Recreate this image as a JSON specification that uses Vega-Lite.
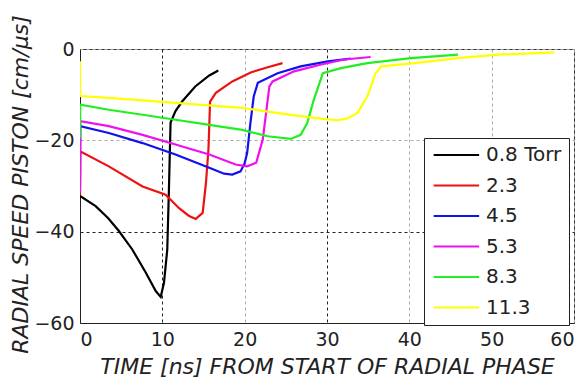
{
  "$schema": "https://vega.github.io/schema/vega-lite/v6.json",
  "autosize": {"type": "none"},
  "width": 494,
  "height": 274,
  "padding": {"left": 80, "top": 49, "right": 13, "bottom": 55},
  "background": "white",
  "config": {
    "view": {"stroke": "#333", "strokeWidth": 1},
    "font": "DejaVu Sans",
    "axis": {
      "labelFont": "DejaVu Sans",
      "labelFontSize": 19,
      "labelColor": "#222",
      "titleFont": "DejaVu Sans",
      "titleFontStyle": "italic",
      "titleFontWeight": "normal",
      "titleFontSize": 22,
      "titleColor": "#222",
      "domainColor": "#222",
      "ticks": false,
      "gridDash": [3, 3],
      "gridWidth": 1
    }
  },
  "data": {
    "values": [
      {"p": "0.8 Torr", "t": 0, "v": -32.2},
      {"p": "0.8 Torr", "t": 1.9, "v": -34.4},
      {"p": "0.8 Torr", "t": 3.4, "v": -37},
      {"p": "0.8 Torr", "t": 4.7, "v": -39.8},
      {"p": "0.8 Torr", "t": 6.35, "v": -43.9},
      {"p": "0.8 Torr", "t": 8.0, "v": -49},
      {"p": "0.8 Torr", "t": 9.2, "v": -53},
      {"p": "0.8 Torr", "t": 9.8, "v": -54.3},
      {"p": "0.8 Torr", "t": 10.2, "v": -51.2},
      {"p": "0.8 Torr", "t": 10.6, "v": -43.9},
      {"p": "0.8 Torr", "t": 10.8, "v": -30.8},
      {"p": "0.8 Torr", "t": 11.0, "v": -16.1},
      {"p": "0.8 Torr", "t": 11.6, "v": -13.6},
      {"p": "0.8 Torr", "t": 12.4, "v": -11.5},
      {"p": "0.8 Torr", "t": 14.0, "v": -8.2},
      {"p": "0.8 Torr", "t": 15.7, "v": -5.8},
      {"p": "0.8 Torr", "t": 16.8, "v": -4.7},

      {"p": "2.3", "t": 0, "v": -32},
      {"p": "2.3", "t": 0.03, "v": -22.4},
      {"p": "2.3", "t": 3.5, "v": -25.7},
      {"p": "2.3", "t": 7.6, "v": -30.1},
      {"p": "2.3", "t": 10.4, "v": -31.9},
      {"p": "2.3", "t": 12.0, "v": -34.8},
      {"p": "2.3", "t": 13.2, "v": -36.5},
      {"p": "2.3", "t": 14.05, "v": -37.2},
      {"p": "2.3", "t": 14.9, "v": -35.9},
      {"p": "2.3", "t": 15.3, "v": -29.3},
      {"p": "2.3", "t": 15.6, "v": -22},
      {"p": "2.3", "t": 15.8, "v": -11.5},
      {"p": "2.3", "t": 16.5, "v": -9.6},
      {"p": "2.3", "t": 18.5, "v": -7.1},
      {"p": "2.3", "t": 20.8, "v": -5.1},
      {"p": "2.3", "t": 22.8, "v": -4},
      {"p": "2.3", "t": 24.6, "v": -3.1},

      {"p": "4.5", "t": 0, "v": -30},
      {"p": "4.5", "t": 0.03, "v": -16.9},
      {"p": "4.5", "t": 3.5, "v": -18.4},
      {"p": "4.5", "t": 7.6, "v": -20.6},
      {"p": "4.5", "t": 11.6, "v": -23.1},
      {"p": "4.5", "t": 15.7, "v": -26.0},
      {"p": "4.5", "t": 17.5, "v": -27.3},
      {"p": "4.5", "t": 18.5, "v": -27.5},
      {"p": "4.5", "t": 19.5, "v": -26.8},
      {"p": "4.5", "t": 20.0, "v": -25},
      {"p": "4.5", "t": 20.3, "v": -22.8},
      {"p": "4.5", "t": 20.7, "v": -16.2},
      {"p": "4.5", "t": 21.1, "v": -10.4},
      {"p": "4.5", "t": 21.6, "v": -7.4},
      {"p": "4.5", "t": 24.0, "v": -5.3},
      {"p": "4.5", "t": 26.8, "v": -3.8},
      {"p": "4.5", "t": 30.1, "v": -2.7},
      {"p": "4.5", "t": 32.9, "v": -2.1},

      {"p": "5.3", "t": 0, "v": -31.3},
      {"p": "5.3", "t": 0.03, "v": -15.8},
      {"p": "5.3", "t": 3.5, "v": -16.9},
      {"p": "5.3", "t": 7.6, "v": -18.8},
      {"p": "5.3", "t": 11.6, "v": -20.9},
      {"p": "5.3", "t": 15.7, "v": -23.1},
      {"p": "5.3", "t": 18.9, "v": -25.3},
      {"p": "5.3", "t": 20.3, "v": -25.7},
      {"p": "5.3", "t": 21.4, "v": -24.9},
      {"p": "5.3", "t": 22.2, "v": -19.8},
      {"p": "5.3", "t": 22.6, "v": -14},
      {"p": "5.3", "t": 23.0, "v": -8.2},
      {"p": "5.3", "t": 23.4, "v": -7.1},
      {"p": "5.3", "t": 26.0, "v": -4.9},
      {"p": "5.3", "t": 29.3, "v": -3.4},
      {"p": "5.3", "t": 32.1, "v": -2.3},
      {"p": "5.3", "t": 35.3, "v": -1.75},

      {"p": "8.3", "t": 0, "v": -19.5},
      {"p": "8.3", "t": 0.03, "v": -12.2},
      {"p": "8.3", "t": 3.5, "v": -13.3},
      {"p": "8.3", "t": 7.6, "v": -14.4},
      {"p": "8.3", "t": 11.6, "v": -15.5},
      {"p": "8.3", "t": 15.7, "v": -16.6},
      {"p": "8.3", "t": 19.7, "v": -17.7},
      {"p": "8.3", "t": 22.8, "v": -19.1},
      {"p": "8.3", "t": 25.6, "v": -19.7},
      {"p": "8.3", "t": 26.8, "v": -18.8},
      {"p": "8.3", "t": 27.6, "v": -16.2},
      {"p": "8.3", "t": 28.4, "v": -11.1},
      {"p": "8.3", "t": 29.1, "v": -7.4},
      {"p": "8.3", "t": 29.5, "v": -5.3},
      {"p": "8.3", "t": 31.7, "v": -4.2},
      {"p": "8.3", "t": 34.9, "v": -3.1},
      {"p": "8.3", "t": 40.2, "v": -2.0},
      {"p": "8.3", "t": 45.9, "v": -1.25},

      {"p": "11.3", "t": 0, "v": -2.7},
      {"p": "11.3", "t": 0.03, "v": -10.3},
      {"p": "11.3", "t": 3.5, "v": -10.7},
      {"p": "11.3", "t": 11.6, "v": -11.8},
      {"p": "11.3", "t": 19.7, "v": -12.9},
      {"p": "11.3", "t": 22.8, "v": -13.7},
      {"p": "11.3", "t": 26.8, "v": -14.7},
      {"p": "11.3", "t": 29.5, "v": -15.3},
      {"p": "11.3", "t": 31.3, "v": -15.6},
      {"p": "11.3", "t": 32.5, "v": -15.2},
      {"p": "11.3", "t": 33.7, "v": -14},
      {"p": "11.3", "t": 34.9, "v": -10.4},
      {"p": "11.3", "t": 35.9, "v": -5.3},
      {"p": "11.3", "t": 36.6, "v": -3.8},
      {"p": "11.3", "t": 40.6, "v": -3.1},
      {"p": "11.3", "t": 45.9, "v": -2.0},
      {"p": "11.3", "t": 50.8, "v": -1.25},
      {"p": "11.3", "t": 57.6, "v": -0.74}
    ]
  },
  "mark": {"type": "line", "strokeWidth": 2.2, "clip": true},
  "encoding": {
    "x": {
      "field": "t",
      "type": "quantitative",
      "scale": {"domain": [0, 60], "nice": false, "zero": false},
      "axis": {
        "values": [0, 10, 20, 30, 40, 50, 60],
        "title": "TIME [ns] FROM START OF RADIAL PHASE",
        "titleY": 43,
        "titleBaseline": "middle",
        "labelPadding": 7,
        "gridColor": {"condition": {"test": "datum.value == 10 || datum.value == 30", "value": "#222"}, "value": "#aaa"}
      }
    },
    "y": {
      "field": "v",
      "type": "quantitative",
      "scale": {"domain": [-60, 0], "nice": false, "zero": false},
      "axis": {
        "values": [-60, -40, -20, 0],
        "title": "RADIAL SPEED PISTON  [cm/µs]",
        "titleAngle": -90,
        "titleX": -60,
        "titleY": 135,
        "titleAlign": "center",
        "titleBaseline": "middle",
        "labelPadding": 6,
        "gridColor": {"condition": {"test": "datum.value == -40", "value": "#222"}, "value": "#aaa"}
      }
    },
    "color": {
      "field": "p",
      "type": "nominal",
      "sort": null,
      "scale": {
        "domain": ["0.8 Torr", "2.3", "4.5", "5.3", "8.3", "11.3"],
        "range": ["#000000", "#ee1111", "#1111ee", "#ee11ee", "#22ee22", "#ffff00"]
      },
      "legend": {
        "title": null,
        "orient": "none",
        "legendX": 344,
        "legendY": 89,
        "direction": "vertical",
        "strokeColor": "#222",
        "fillColor": "white",
        "padding": 7,
        "symbolType": "M-1,0H5.2",
        "symbolSize": 215,
        "symbolStrokeWidth": 2,
        "labelFont": "DejaVu Sans",
        "labelFontSize": 20,
        "labelColor": "#222",
        "labelOffset": 35,
        "rowPadding": 10.5
      }
    }
  }
}
